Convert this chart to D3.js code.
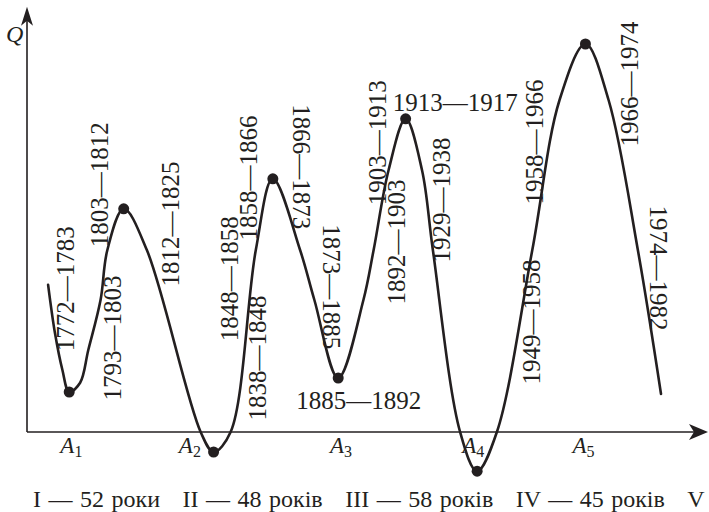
<!DOCTYPE html>
<html>
<head>
<meta charset="utf-8">
<script src="https://cdn.jsdelivr.net/npm/d3@7"></script>
<style>
  body { margin: 0; background: #fff; }
</style>
</head>
<body>
<div id="chart"></div>
<script>
// wave trace: time (arbitrary units) and Q
var waveT = [3.1, 4.1, 5.2, 6.2, 7.8, 9.0, 10.8, 11.8, 14.2, 17.6, 25.5, 27.4, 29.9, 33.6, 36.1, 40.1, 42.2, 45.7, 49.4, 50.9, 53.1, 55.6, 58.0, 59.6, 63.6, 66.1, 69.0, 74.2, 78.2, 82.0, 85.4, 89.7, 93.1];
var waveQ = [36.8, 24.8, 15.5, 10.0, 12.3, 20.5, 33.0, 45.5, 55.8, 45.5, 0, -5.0, 0, 45.5, 63.3, 45.5, 33.0, 13.5, 33.0, 45.5, 65.5, 78.3, 65.5, 45.5, 0, -9.8, 0, 45.5, 83.0, 97.0, 83.0, 45.5, 9.5];

// turning points (dots)
var turnT = [6.2, 14.2, 27.4, 36.1, 45.7, 55.6, 66.1, 82.0];
var turnQ = [10.0, 55.8, -5.0, 63.3, 13.5, 78.3, -9.8, 97.0];

// period labels
var periodText = ['1772—1783', '1803—1812', '1793—1803', '1812—1825', '1848—1858', '1858—1866', '1838—1848',
    '1866—1873', '1873—1885', '1903—1913', '1892—1903', '1929—1938', '1958—1966', '1966—1974', '1949—1958',
    '1974—1982', '1913—1917', '1885—1892'];
var periodT = [5.6, 10.7, 12.5, 21.0, 29.7, 32.5, 33.8, 40.3, 44.7, 51.4, 54.3, 60.8, 74.5, 88.4, 74.1, 92.8, 62.9, 48.7];
var periodQ = [35.8, 61.8, 23.5, 52.0, 38.3, 63.5, 18.5, 66.3, 36.3, 72.3, 47.5, 58.0, 72.5, 87.0, 27.5, 41.0, 82.5, 8.0];
var periodRot = [-90, -90, -90, -90, -90, -90, -90, 90, 90, -90, -90, -90, -90, -90, -90, 90, 0, 0];

// phase markers on the time axis
var phaseT = [4.9, 22.3, 44.5, 63.9, 80.1];
var phaseSub = ['1', '2', '3', '4', '5'];

// cycle lengths
var cycles = ['I', 'II', 'III', 'IV', 'V'];
var cycleYears = ['52 роки', '48 років', '58 років', '45 років', ''];

var W = 709, H = 512;
var serif = "'Liberation Serif', 'Times New Roman', Times, 'DejaVu Serif', serif";

var svg = d3.select('#chart').append('svg')
    .attr('width', W)
    .attr('height', H)
    .attr('font-family', serif)
    .style('font-family', serif);

var x = d3.scaleLinear().domain([0, 100]).range([27, 708]);
var y = d3.scaleLinear().domain([0, 100]).range([432, 32]);

var ink = '#231f20';

// axes
svg.append('line')
    .attr('x1', x(0)).attr('x2', x(98))
    .attr('y1', y(0)).attr('y2', y(0))
    .attr('stroke', ink).attr('stroke-width', 1.6);
svg.append('line')
    .attr('x1', x(0)).attr('x2', x(0))
    .attr('y1', y(0)).attr('y2', y(104))
    .attr('stroke', ink).attr('stroke-width', 1.6);

// arrow heads
var tipX = [x(100), y(0)], tipY = [x(0), y(106.3)];
svg.append('path')
    .attr('d', 'M' + tipX[0] + ',' + tipX[1] + ' L' + (tipX[0] - 19) + ',' + (tipX[1] - 8) +
        ' L' + (tipX[0] - 14) + ',' + tipX[1] + ' L' + (tipX[0] - 19) + ',' + (tipX[1] + 8) + 'Z')
    .attr('fill', ink);
svg.append('path')
    .attr('d', 'M' + tipY[0] + ',' + tipY[1] + ' L' + (tipY[0] - 6) + ',' + (tipY[1] + 19) +
        ' L' + tipY[0] + ',' + (tipY[1] + 14) + ' L' + (tipY[0] + 6) + ',' + (tipY[1] + 19) + 'Z')
    .attr('fill', ink);

// Q label
svg.append('text')
    .attr('x', 6).attr('y', 42)
    .attr('fill', ink)
    .style('font-style', 'italic')
    .style('font-size', '24px')
    .text('Q');

// the wave
var wave = waveT.map(function (t, i) { return {t: t, q: waveQ[i]}; });
var line = d3.line()
    .x(function (d) { return x(d.t); })
    .y(function (d) { return y(d.q); })
    .curve(d3.curveCatmullRom.alpha(0.5));

svg.append('path')
    .datum(wave)
    .attr('fill', 'none')
    .attr('stroke', ink)
    .attr('stroke-width', 2.6)
    .attr('stroke-linejoin', 'round')
    .attr('stroke-linecap', 'round')
    .attr('d', line);

svg.append('g').selectAll('circle')
    .data(turnT)
    .enter()
    .append('circle')
    .attr('cx', function (d) { return x(d); })
    .attr('cy', function (d, i) { return y(turnQ[i]); })
    .attr('r', 5.5)
    .attr('fill', ink);

// period labels
svg.append('g').selectAll('text')
    .data(periodText)
    .enter()
    .append('text')
    .attr('transform', function (d, i) {
        return 'translate(' + x(periodT[i]) + ',' + y(periodQ[i]) + ') rotate(' + periodRot[i] + ')';
    })
    .attr('text-anchor', 'middle')
    .attr('dominant-baseline', 'central')
    .attr('fill', ink)
    .style('font-size', '25px')
    .text(function (d) { return d; });

// A1..A5
var ph = svg.append('g').selectAll('text')
    .data(phaseT)
    .enter()
    .append('text')
    .attr('x', function (d) { return x(d); })
    .attr('y', y(-5.3))
    .attr('fill', ink)
    .style('font-size', '23px');
ph.append('tspan').style('font-style', 'italic').text('A');
ph.append('tspan').attr('dy', 4).style('font-size', '16px')
    .text(function (d, i) { return phaseSub[i]; });

// cycle lengths along the bottom
var bx = 33;
cycles.forEach(function (c, i) {
    var s = cycleYears[i] ? c + ' — ' + cycleYears[i] : c;
    var t = svg.append('text')
        .attr('x', bx)
        .attr('y', 507)
        .attr('fill', ink)
        .style('font-size', '24px')
        .style('word-spacing', '1.5px')
        .text(s);
    bx += t.node().getComputedTextLength() + 22.5;
});
</script>
</body>
</html>
